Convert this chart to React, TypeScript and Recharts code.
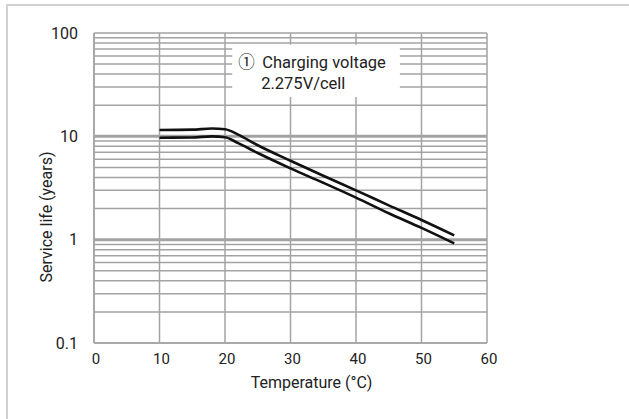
import { LineChart, Line, XAxis, YAxis, CartesianGrid, ReferenceLine, ReferenceArea } from "recharts";

const temperatures = [10, 15, 18, 20, 22, 25, 30, 35, 40, 45, 50, 55];
const upperLife = [11.5, 11.6, 11.9, 11.7, 10.4, 8.2, 5.8, 4.15, 3.0, 2.15, 1.55, 1.1];
const lowerLife = [9.7, 9.75, 10.0, 9.8, 8.6, 6.9, 4.9, 3.55, 2.55, 1.8, 1.3, 0.92];

const xTicks = [0, 10, 20, 30, 40, 50, 60];
const yTicks = [
  0.1, 0.2, 0.3, 0.4, 0.5, 0.6, 0.7, 0.8, 0.9,
  1, 2, 3, 4, 5, 6, 7, 8, 9,
  10, 20, 30, 40, 50, 60, 70, 80, 90,
  100,
];
const yLabels = [0.1, 1, 10, 100];

const data = temperatures.map((t, i) => ({ t, upper: upperLife[i], lower: lowerLife[i] }));

const GRID = "#a3a3a3";
const INK = "#222";
const FONT = "Roboto, 'Noto Sans', sans-serif";

function NoteLabel(props: any) {
  const { x, y } = props.viewBox;
  return (
    <g fill={INK} fontFamily={FONT} fontSize={16.5}>
      <text x={x + 6} y={y + 23} fontFamily="'Noto Sans CJK JP', 'DejaVu Sans', sans-serif">①</text>
      <text x={x + 30} y={y + 23}>Charging voltage</text>
      <text x={x + 29} y={y + 44}>2.275V/cell</text>
    </g>
  );
}

function YLabel(props: any) {
  const { x, y, height } = props.viewBox;
  const cx = x + 46;
  const cy = y + height / 2 + 29;
  return (
    <text x={cx} y={cy} transform={`rotate(-90, ${cx}, ${cy})`} textAnchor="middle" dominantBaseline="central"
      fill={INK} fontFamily={FONT} fontSize={16}>
      Service life (years)
    </text>
  );
}

function XLabel(props: any) {
  const { x, y, width } = props.viewBox;
  return (
    <text x={x + width / 2 + 21} y={y + 39} textAnchor="middle" dominantBaseline="central"
      fill={INK} fontFamily={FONT} fontSize={16}>
      Temperature (°C)
    </text>
  );
}

export default function App() {
  return (
    <div style={{ position: "fixed", left: 0, top: 0, width: 629, height: 419, background: "#fff" }}>
      <div style={{ position: "absolute", left: 6, top: 4, width: 623, height: 415, borderTop: "2px solid #d2d2d2", borderLeft: "2px solid #d2d2d2" }} />
      <LineChart width={629} height={419} data={data} margin={{ top: 33, right: 142, bottom: 36, left: 0 }}
        style={{ position: "absolute", left: 0, top: 0 }}>
        <CartesianGrid stroke={GRID} strokeWidth={1.5} />
        <XAxis dataKey="t" type="number" domain={[0, 60]} ticks={xTicks} height={40}
          axisLine={{ stroke: GRID, strokeWidth: 1.5 }} tickLine={false} tickSize={0} tickMargin={10}
          tick={{ fill: INK, fontSize: 15, fontFamily: FONT, dx: 2 }} label={<XLabel />} />
        <YAxis type="number" scale="log" domain={[0.1, 100]} ticks={yTicks} width={94} allowDataOverflow
          interval={0}
          axisLine={{ stroke: GRID, strokeWidth: 1.5 }} tickLine={false} tickSize={0} tickMargin={16}
          tickFormatter={(v: number) => (yLabels.includes(v) ? String(v) : "")}
          tick={{ fill: INK, fontSize: 16, fontFamily: FONT }} label={<YLabel />} />
        <ReferenceLine y={10} stroke={GRID} strokeWidth={3} />
        <ReferenceLine y={1} stroke={GRID} strokeWidth={3} />
        <ReferenceArea x1={21.1} x2={46.7} y1={24} y2={77} fill="#fff" fillOpacity={1} stroke="none" label={<NoteLabel />} />
        <Line dataKey="upper" type="monotone" stroke="#111" strokeWidth={2.6} dot={false} isAnimationActive={false} />
        <Line dataKey="lower" type="monotone" stroke="#111" strokeWidth={2.6} dot={false} isAnimationActive={false} />
      </LineChart>
    </div>
  );
}
